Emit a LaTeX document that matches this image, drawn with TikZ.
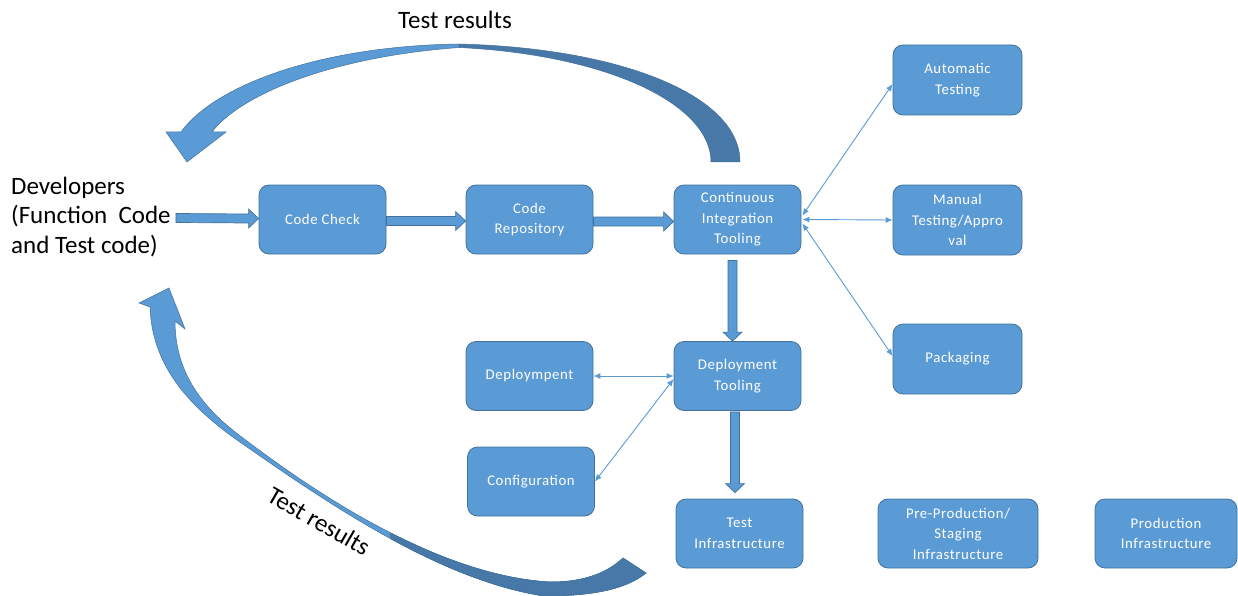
\documentclass[tikz,border=0pt]{standalone}
\usepackage{fontspec}
\setmainfont{Carlito}
\newfontfamily\boxfont[LetterSpace=4]{Carlito}
\usetikzlibrary{calc,arrows.meta}
\definecolor{boxfill}{HTML}{5B9BD5}
\definecolor{boxline}{HTML}{41719C}
\definecolor{darkarrow}{HTML}{4878A8}
\begin{document}
\begin{tikzpicture}[x=1pt,y=-1pt,
  box/.style={draw=boxline, fill=boxfill, line width=0.8pt, rounded corners=10pt,
    minimum width=127pt, minimum height=69pt, inner sep=2pt, align=center,
    text=white, font=\boxfont\fontsize{14.8}{20.5}\selectfont},
  bigtext/.style={font=\fontsize{25}{29.5}\selectfont, text=black, inner sep=0pt},
  thin/.style={draw=boxfill, line width=0.9pt, {Latex[length=7pt,width=6pt]}-{Latex[length=7pt,width=6pt]}},
  harrow/.style={draw=boxline, fill=boxfill, line width=0.7pt, to path={
    ($(\tikztostart)+(0,-4.5)$) -- ($(\tikztotarget)+(-10,-4.5)$) -- ($(\tikztotarget)+(-10,-9.5)$)
    -- (\tikztotarget) -- ($(\tikztotarget)+(-10,9.5)$) -- ($(\tikztotarget)+(-10,4.5)$)
    -- ($(\tikztostart)+(0,4.5)$) -- cycle}},
  varrow/.style={draw=boxline, fill=boxfill, line width=0.7pt, to path={
    ($(\tikztostart)+(-4.5,0)$) -- ($(\tikztotarget)+(-4.5,-9)$) -- ($(\tikztotarget)+(-9.5,-9)$)
    -- (\tikztotarget) -- ($(\tikztotarget)+(9.5,-9)$) -- ($(\tikztotarget)+(4.5,-9)$)
    -- ($(\tikztostart)+(4.5,0)$) -- cycle}},
  curvy/.style={fill=boxfill, draw=boxline, line width=0.5pt},
  curvydark/.style={fill=darkarrow, draw=boxline, line width=0.5pt}
]
\useasboundingbox (0,0) rectangle (1238,596);

% nodes
\node[bigtext, anchor=west, align=left] (dev) at (11,217) {Developers\\(Function~ Code\\and Test code)};
\node[box] (cc)   at (322.5,219.5) {Code Check};
\node[box] (repo) at (529.5,219.5) {Code\\Repository};
\node[box] (ci)   at (737.5,219.5) {Continuous\\Integration\\Tooling};
\node[box, minimum width=129pt, minimum height=70pt] (at) at (957.5,80) {Automatic\\Testing};
\node[box, minimum width=129pt, minimum height=70pt] (mt) at (957.5,220) {Manual\\Testing/Appro\\val};
\node[box, minimum width=129pt, minimum height=70pt] (pk) at (957.5,359) {Packaging};
\node[box] (dep)  at (529.5,376) {Deploympent};
\node[box] (dt)   at (737.5,376) {Deployment\\Tooling};
\node[box] (cfg)  at (531,481.5) {Configuration};
\node[box] (ti)   at (739.5,533.5) {Test\\Infrastructure};
\node[box, minimum width=160pt] (pp) at (958,533.5) {Pre-Production/\\Staging\\Infrastructure};
\node[box, minimum width=142pt] (pi) at (1166,533.5) {Production\\Infrastructure};

% block arrows
\path[harrow] ($(dev.east)+(5,1)$) to ($(cc.west)+(0,-1)$);
\path[harrow] ($(cc.east)+(0,1.5)$) to ($(repo.west)+(0,1.5)$);
\path[harrow] ($(repo.east)+(0,2)$) to ($(ci.west)+(0,2)$);
\path[varrow] ($(ci.south)+(-5,6)$) to ($(dt.north)+(-5,0)$);
\path[varrow] ($(dt.south)+(-2.5,1)$) to ($(ti.north)+(-4.5,-6)$);

% thin double arrows
\draw[thin] ($(ci.east)+(1,-4)$) -- ($(at.west)+(0,4)$);
\draw[thin] ($(ci.east)+(1,0)$) -- (mt.west);
\draw[thin] ($(ci.east)+(1,4)$) -- ($(pk.west)+(0,-3)$);
\draw[thin] (dt.west) -- (dep.east);
\draw[thin] ($(dt.west)+(0,3)$) -- (cfg.east);

% top curved arrow
\node[bigtext] (tr1) at (455,20) {Test results};
\filldraw[curvy] (459,44) .. controls (320,46) and (215,85) .. (181,132) -- (166,132) -- (187,162)
  -- (226,132) -- (212,132) .. controls (240,95) and (330,57) .. (459,47.5) -- cycle;
\filldraw[curvydark] (459,44) .. controls (620,48) and (740,95) .. (740,162) -- (711,162)
  .. controls (711,105) and (610,55) .. (459,47.5) -- cycle;

% bottom curved arrow
\filldraw[curvy] (150,307) .. controls (152,370) and (195,410) .. (237,440)
  .. controls (330,505) and (440,580) .. (544,596)
  .. controls (590,596) and (625,590) .. (646,573) -- (623,558)
  .. controls (605,575) and (580,582) .. (551,582)
  .. controls (450,577) and (335,508) .. (243,438)
  .. controls (205,410) and (175,375) .. (175,321) -- (185,329) -- (169,288) -- (139,303) -- cycle;
\begin{scope}
  \clip (390,400) rectangle (700,600);
  \filldraw[curvydark] (150,307) .. controls (152,370) and (195,410) .. (237,440)
    .. controls (330,505) and (440,580) .. (544,596)
    .. controls (590,596) and (625,590) .. (646,573) -- (623,558)
    .. controls (605,575) and (580,582) .. (551,582)
    .. controls (450,577) and (335,508) .. (243,438)
    .. controls (205,410) and (175,375) .. (175,321) -- (185,329) -- (169,288) -- (139,303) -- cycle;
\end{scope}
\node[bigtext, rotate=-30] (tr2) at (319,521) {Test results};
\end{tikzpicture}
\end{document}
